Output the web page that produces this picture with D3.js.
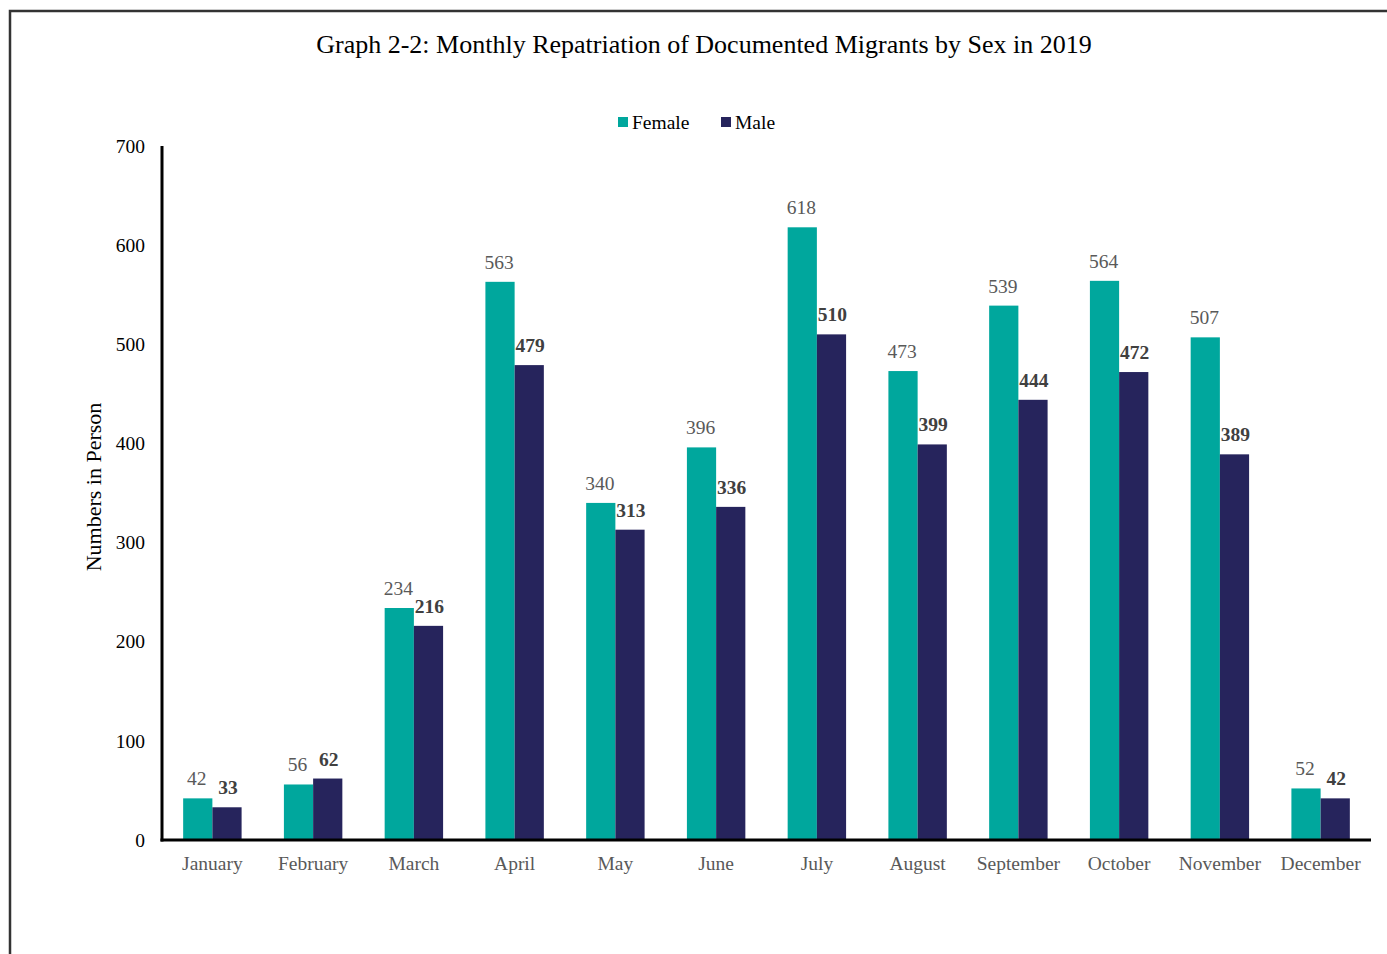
<!DOCTYPE html>
<html><head><meta charset="utf-8">
<script src="https://cdn.jsdelivr.net/npm/d3@7"></script>
<style>body{margin:0;background:#fff}svg{display:block}text{font-family:"Liberation Serif","Times New Roman",serif}</style>
</head><body>
<svg id="c" width="1387" height="954"></svg>
<script>
const months = ["January","February","March","April","May","June","July","August","September","October","November","December"];
const female = [42,56,234,563,340,396,618,473,539,564,507,52];
const male = [33,62,216,479,313,336,510,399,444,472,389,42];
const yTicks = [0,100,200,300,400,500,600,700];
const seriesNames = ["Female","Male"];
const colors = ["#00A79D","#26245C"];

const svg = d3.select("#c");
// frame
svg.append("rect").attr("x",10).attr("y",11).attr("width",1400).attr("height",1000)
  .attr("fill","none").attr("stroke","#333").attr("stroke-width",2.5);

const m = {left:162, right:1371, top:146, bottom:840};
const x = d3.scaleBand().domain(months).range([m.left, m.right]).paddingInner(0.42).paddingOuter(0.21);
const sub = d3.scaleBand().domain(seriesNames).range([0, x.bandwidth()]);
const y = d3.scaleLinear().domain([0,700]).range([m.bottom, m.top]);

svg.append("text").attr("x",704).attr("y",53).attr("text-anchor","middle")
  .attr("font-size",26).attr("fill","#000").text("Graph 2-2: Monthly Repatriation of Documented Migrants by Sex in 2019");

// legend
const leg = [{n:"Female",x:618},{n:"Male",x:721}];
leg.forEach((l,i)=>{
  svg.append("rect").attr("x",l.x).attr("y",117).attr("width",10).attr("height",10).attr("fill",colors[i]);
  svg.append("text").attr("x",l.x+14).attr("y",129).attr("font-size",19.5).attr("fill","#000").text(l.n);
});

// bars
const data = months.map((mo,i)=>({mo, vals:[female[i],male[i]]}));
const g = svg.append("g");
data.forEach(d=>{
  d.vals.forEach((v,j)=>{
    g.append("rect").attr("x",x(d.mo)+sub(seriesNames[j])).attr("y",y(v))
      .attr("width",sub.bandwidth()).attr("height",y(0)-y(v)).attr("fill",colors[j]);
    g.append("text").attr("x",x(d.mo)+sub(seriesNames[j])+sub.bandwidth()/2 + (j===0?-1:1))
      .attr("y",y(v)-13).attr("text-anchor","middle").attr("font-size",19.5)
      .attr("font-weight",j===1?"bold":"normal").attr("fill",j===1?"#404040":"#595959").text(v);
  });
});

// axes
const ya = svg.append("g").attr("transform",`translate(${m.left},0)`)
  .call(d3.axisLeft(y).tickValues(yTicks).tickSize(0).tickPadding(17));
ya.select(".domain").attr("stroke","#000").attr("stroke-width",3).attr("d",`M0,${m.top}V${m.bottom+1.5}`);
ya.selectAll("text").attr("font-size",19.5).attr("fill","#000").attr("font-family","Liberation Serif");

const xa = svg.append("g").attr("transform",`translate(0,${m.bottom})`)
  .call(d3.axisBottom(x).tickSize(0).tickPadding(16));
xa.select(".domain").attr("stroke","#000").attr("stroke-width",3).attr("d",`M${m.left-1.5},0H${m.right}`);
xa.selectAll("text").attr("font-size",19.5).attr("fill","#595959").attr("font-family","Liberation Serif");

svg.append("text").attr("transform","translate(101,487) rotate(-90)").attr("text-anchor","middle")
  .attr("font-size",22).attr("fill","#000").text("Numbers in Person");
</script>
</body></html>
